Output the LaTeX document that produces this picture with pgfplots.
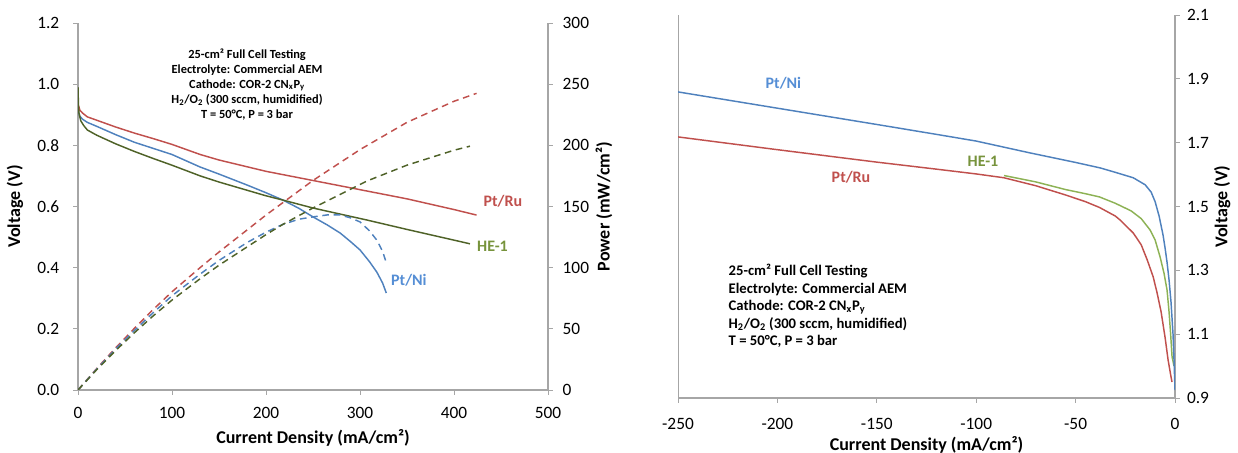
\documentclass[border=0pt]{standalone}
\usepackage{pgfplots}
\pgfplotsset{compat=1.18}
\usepackage{fontspec}
\setmainfont{Carlito}

\definecolor{cRu}{HTML}{C0504D}
\definecolor{cNi}{HTML}{4F81BD}
\definecolor{cHEd}{HTML}{4F6228}
\definecolor{cHEl}{HTML}{8DB255}
\definecolor{cHEt}{HTML}{77933C}
\definecolor{cNit}{HTML}{558ED5}
\definecolor{axgray}{HTML}{A6A6A6}

\pgfplotsset{
  xlstyle/.style={
    scale only axis,
    tick align=outside,
    major tick length=3.5pt,
    tick style={axgray, line width=0.6pt},
    axis line style={axgray, line width=0.8pt},
    ticklabel style={font=\fontsize{13}{15}\selectfont},
    xticklabel style={yshift=-6pt},
    label style={font=\bfseries\fontsize{13.5}{15}\selectfont},
    /pgf/number format/assume math mode=true,
  },
}

\begin{document}
\begin{tikzpicture}
\useasboundingbox (0,0) rectangle (928.5pt,339.75pt);

% ---------- left panel: voltage ----------
\begin{axis}[
  xlstyle,
  at={(58.5pt,47.25pt)}, anchor=south west,
  width=352.5pt, height=275.25pt,
  xmin=0, xmax=500, ymin=0, ymax=1.2,
  axis x line*=bottom, axis y line*=left,
  xtick={0,100,...,500},
  ytick={0,0.2,...,1.2},
  yticklabel style={xshift=-7pt, /pgf/number format/.cd, fixed, fixed zerofill, precision=1},
  xlabel={Current Density (mA/cm²)},
  ylabel={Voltage (V)},
  xlabel style={at={(axis description cs:0.5,-0.131)}, anchor=center},
  ylabel style={at={(axis description cs:-0.134,0.5)}, anchor=center},
]
\addplot[cRu, line width=1.1pt] coordinates {
 (0,0.935) (2,0.915) (5,0.905) (10,0.893) (20,0.882) (40,0.86) (60,0.84) (80,0.822)
 (100,0.803) (130,0.77) (150,0.752) (200,0.715) (250,0.685) (300,0.655) (350,0.625)
 (400,0.59) (424,0.572)};
\addplot[cNi, line width=1.1pt] coordinates {
 (0,0.915) (2,0.895) (5,0.885) (10,0.875) (20,0.862) (40,0.835) (60,0.81) (80,0.79)
 (100,0.77) (130,0.729) (150,0.706) (180,0.67) (200,0.645) (218,0.621) (235,0.594)
 (250,0.566) (265,0.54) (279,0.513) (290,0.485) (300,0.458) (310,0.42) (318,0.385)
 (324,0.35) (328,0.317)};
\addplot[cHEd, line width=1.1pt] coordinates {
 (0,0.99) (0.5,0.93) (1,0.905) (3,0.88) (6,0.865) (10,0.85) (20,0.833) (40,0.805)
 (60,0.78) (80,0.757) (100,0.735) (130,0.70) (150,0.68) (200,0.635) (218,0.621)
 (250,0.595) (307,0.556) (350,0.525) (400,0.49) (417,0.478)};
\node[font=\bfseries\fontsize{12}{14}\selectfont, text=cRu] at (axis cs:452,0.618) {Pt/Ru};
\node[font=\bfseries\fontsize{12}{14}\selectfont, text=cHEt] at (axis cs:441,0.471) {HE-1};
\node[font=\bfseries\fontsize{12}{14}\selectfont, text=cNit] at (axis cs:352,0.36) {Pt/Ni};
\end{axis}

% ---------- left panel: power ----------
\begin{axis}[
  xlstyle,
  at={(58.5pt,47.25pt)}, anchor=south west,
  width=352.5pt, height=275.25pt,
  xmin=0, xmax=500, ymin=0, ymax=300,
  axis x line=none, axis y line*=right,
  ytick={0,50,...,300},
  yticklabel style={xshift=4pt},
  ylabel={Power (mW/cm²)},
  ylabel style={at={(axis description cs:1.119,0.5)}, anchor=center},
]
\addplot[cRu, line width=1.1pt, dash pattern=on 5pt off 3.5pt] coordinates {
 (0,0) (20,17.6) (40,34.4) (60,50.4) (80,65.8) (100,80.3) (130,100.1) (150,112.8)
 (200,143) (250,171.3) (300,196.5) (350,218.8) (400,236) (424,242.5)};
\addplot[cNi, line width=1.1pt, dash pattern=on 5pt off 3.5pt] coordinates {
 (0,0) (20,17.2) (40,33.4) (60,48.6) (80,63.2) (100,77) (130,94.8) (150,105.9)
 (180,120.6) (200,129) (218,135.4) (235,139.6) (250,141.5) (265,143.1) (279,143.1)
 (290,140.7) (300,137.4) (310,130.2) (318,122.4) (324,113.4) (328,104)};
\addplot[cHEd, line width=1.1pt, dash pattern=on 5pt off 3.5pt] coordinates {
 (0,0) (20,16.7) (40,32.2) (60,46.8) (80,60.6) (100,73.5) (130,91) (150,102)
 (200,127) (218,135.4) (250,148.8) (307,170.7) (350,183.8) (400,196) (417,199.3)};
\end{axis}

\node[align=center, anchor=north, font=\bfseries\fontsize{9.3}{11.4}\selectfont]
  at (185.3pt,307pt)
  {25-cm² Full Cell Testing\\Electrolyte: Commercial AEM\\Cathode: COR-2 CN\textsubscript{x}P\textsubscript{y}\\H\textsubscript{2}/O\textsubscript{2} (300 sccm, humidified)\\T = 50°C, P = 3 bar};

% ---------- right panel ----------
\begin{axis}[
  xlstyle,
  at={(508.5pt,41.25pt)}, anchor=south west,
  width=372.75pt, height=287.25pt,
  xmin=-250, xmax=0, ymin=0.9, ymax=2.1,
  axis x line*=bottom, axis y line*=right,
  xtick={-250,-200,...,0},
  ytick={0.9,1.1,...,2.1},
  xticklabel style={yshift=-2.5pt},
  yticklabel style={xshift=2pt, /pgf/number format/.cd, fixed, fixed zerofill, precision=1},
  xlabel={Current Density (mA/cm²)},
  ylabel={Voltage (V)},
  xlabel style={at={(axis description cs:0.5,-0.123)}, anchor=center},
  ylabel style={at={(axis description cs:1.095,0.5)}, anchor=center},
]
\draw[axgray, line width=0.8pt] (rel axis cs:0,0) -- (rel axis cs:0,1);
\addplot[cRu, line width=1.1pt] coordinates {
 (-250,1.718) (-200,1.678) (-150,1.639) (-120,1.617) (-100,1.602) (-86,1.59)
 (-70,1.565) (-55,1.536) (-45,1.515) (-38,1.497) (-30,1.47) (-27.7,1.458)
 (-21,1.417) (-17,1.38) (-14,1.333) (-11,1.28) (-9,1.229) (-7,1.17) (-5,1.09)
 (-3.5,1.02) (-2,0.966) (-1.5,0.95)};
\addplot[cHEl, line width=1.1pt] coordinates {
 (-86,1.597) (-70,1.577) (-55,1.553) (-45,1.54) (-38,1.53) (-30,1.51) (-22,1.486)
 (-17,1.462) (-12.6,1.427) (-10,1.395) (-7.5,1.342) (-5.5,1.29) (-4,1.238)
 (-3,1.17) (-2.2,1.10) (-1.5,1.03) (-0.5,1.0)};
\addplot[cNi, line width=1.1pt] coordinates {
 (-250,1.859) (-200,1.808) (-150,1.757) (-120,1.726) (-100,1.705) (-73,1.668)
 (-50,1.638) (-37.7,1.621) (-30,1.607) (-21,1.59) (-15,1.568) (-12,1.545)
 (-10,1.515) (-8,1.47) (-6,1.41) (-5,1.37) (-4,1.325) (-3,1.27) (-2,1.2)
 (-1,1.10) (-0.5,1.02) (0,0.925)};
\node[font=\bfseries\fontsize{12}{14}\selectfont, text=cNit] at (axis cs:-197,1.887) {Pt/Ni};
\node[font=\bfseries\fontsize{12}{14}\selectfont, text=cRu] at (axis cs:-163,1.592) {Pt/Ru};
\node[font=\bfseries\fontsize{12}{14}\selectfont, text=cHEt] at (axis cs:-96.6,1.642) {HE-1};
\end{axis}

\node[align=left, anchor=north west, font=\bfseries\fontsize{11}{13.1}\selectfont]
  at (543pt,145pt)
  {25-cm² Full Cell Testing\\Electrolyte: Commercial AEM\\Cathode: COR-2 CN\textsubscript{x}P\textsubscript{y}\\H\textsubscript{2}/O\textsubscript{2} (300 sccm, humidified)\\T = 50°C, P = 3 bar};
\end{tikzpicture}
\end{document}
